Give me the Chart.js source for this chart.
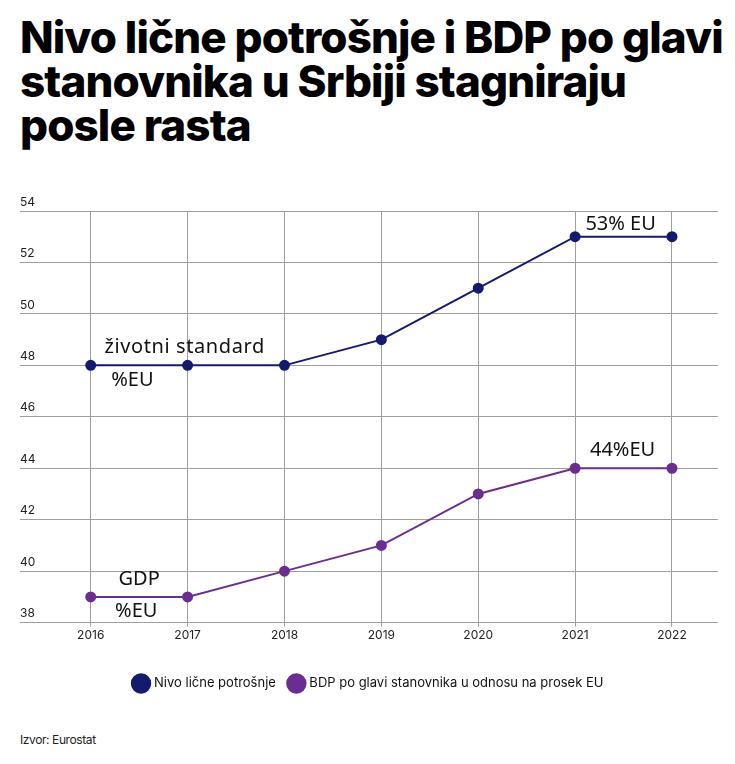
<!DOCTYPE html>
<html>
<head>
<meta charset="utf-8">
<script src="https://cdn.jsdelivr.net/npm/chart.js@4.4.1/dist/chart.umd.min.js"></script>
<style>
  html, body { margin: 0; padding: 0; background: #fff; }
  body { width: 735px; height: 764px; position: relative; overflow: hidden; font-family: Inter, sans-serif; }
  #title {
    position: absolute; left: 20px; top: 15px; width: 720px;
    font-family: Inter, sans-serif; font-weight: 800; font-size: 44px;
    line-height: 44px; letter-spacing: -0.9px; color: #000; white-space: nowrap;
  }
  #chart-box { position: absolute; left: 0; top: 190px; width: 735px; height: 510px; }
  #source { position: absolute; left: 20px; top: 732px; font-size: 12px; color: #222; letter-spacing: -0.4px; }
</style>
</head>
<body>
<div id="title">Nivo lične potrošnje i BDP po glavi<br>stanovnika u Srbiji stagniraju<br>posle rasta</div>
<div id="chart-box"><canvas id="line-chart"></canvas></div>
<div id="source">Izvor: Eurostat</div>
<script>
const years = [2016, 2017, 2018, 2019, 2020, 2021, 2022];
const consumption = [48, 48, 48, 49, 51, 53, 53];
const gdpPerCapita = [39, 39, 40, 41, 43, 44, 44];
const yTicks = [38, 40, 42, 44, 46, 48, 50, 52, 54];

// text notes placed next to the lines: [text, year (center), value, pixel shift]
const notes = [
    ['životni standard', 2016.97, 48, -18],
    ['%EU', 2016.43, 48, 15],
    ['53% EU', 2021.47, 53, -12],
    ['44%EU', 2021.49, 44, -18],
    ['GDP', 2016.5, 39, -18],
    ['%EU', 2016.47, 39, 14]
];

const navy = '#141a6e';
const purple = '#6c2d93';

const notesPlugin = {
    id: 'notes',
    afterDatasetsDraw(chart) {
        const ctx = chart.ctx;
        const xs = chart.scales.x;
        const ys = chart.scales.y;
        ctx.save();
        ctx.font = '20px "Noto Sans", sans-serif';
        ctx.fillStyle = '#111';
        ctx.textAlign = 'center';
        ctx.textBaseline = 'middle';
        notes.forEach(n => {
            if (n[0] === 'životni standard') ctx.letterSpacing = '0.6px';
            else ctx.letterSpacing = '0px';
            ctx.fillText(n[0], xs.getPixelForValue(n[1]), ys.getPixelForValue(n[2]) + n[3]);
        });
        ctx.restore();
    }
};

const lineCtx = document.getElementById('line-chart').getContext('2d');
const lineChart = new Chart(lineCtx, {
    type: 'line',
    data: {
        datasets: [
            {
                label: 'Nivo lične potrošnje',
                data: years.map((y, i) => ({ x: y, y: consumption[i] })),
                borderColor: navy,
                backgroundColor: navy,
                borderWidth: 2,
                pointRadius: 4.5,
                pointHoverRadius: 4.5
            },
            {
                label: 'BDP po glavi stanovnika u odnosu na prosek EU',
                data: years.map((y, i) => ({ x: y, y: gdpPerCapita[i] })),
                borderColor: purple,
                backgroundColor: purple,
                borderWidth: 2,
                pointRadius: 4.5,
                pointHoverRadius: 4.5
            }
        ]
    },
    options: {
        responsive: true,
        maintainAspectRatio: false,
        animation: false,
        layout: { padding: { left: 20, right: 17, top: 21, bottom: 0 } },
        plugins: {
            tooltip: { enabled: false },
            legend: {
                position: 'bottom',
                labels: {
                    usePointStyle: true,
                    pointStyle: 'circle',
                    boxWidth: 16,
                    boxHeight: 16,
                    padding: 14,
                    color: '#111',
                    font: { family: 'Inter', size: 13 }
                }
            }
        },
        scales: {
            x: {
                type: 'linear',
                min: 2015.27,
                max: 2022.475,
                afterBuildTicks: axis => { axis.ticks = years.map(v => ({ value: v })); },
                afterFit: axis => { axis.height += 18; },
                ticks: {
                    color: '#222',
                    font: { family: 'Inter', size: 12 },
                    padding: 2,
                    maxRotation: 0,
                    callback: v => String(v)
                },
                grid: { color: '#9e9e9e', lineWidth: 1, tickLength: 4 },
                border: { display: false }
            },
            y: {
                min: 38,
                max: 54,
                afterBuildTicks: axis => { axis.ticks = yTicks.map(v => ({ value: v })); },
                ticks: {
                    mirror: true,
                    padding: 0,
                    labelOffset: -9,
                    color: '#222',
                    font: { family: 'Inter', size: 12 }
                },
                grid: { color: '#9e9e9e', lineWidth: 1, drawTicks: false },
                border: { display: false }
            }
        }
    },
    plugins: [notesPlugin]
});
</script>
</body>
</html>
